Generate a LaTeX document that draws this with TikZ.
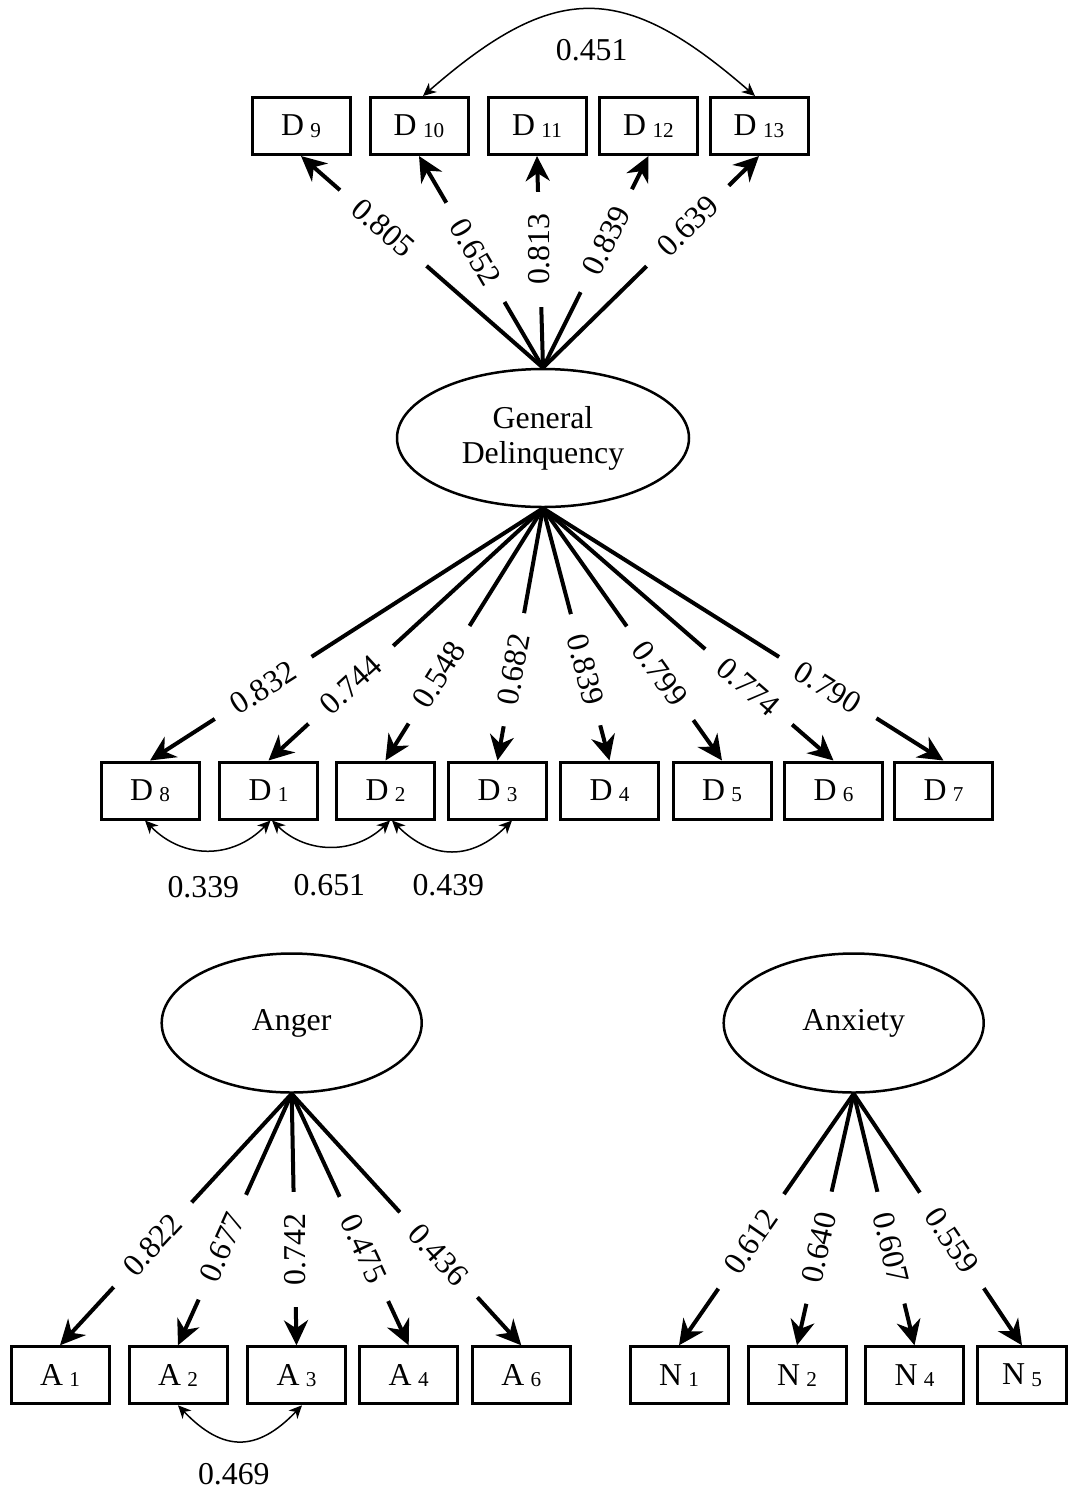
\documentclass[tikz,border=0pt]{standalone}
\usepackage{fontspec}
\setmainfont{Liberation Serif}
\usetikzlibrary{arrows.meta,shapes.geometric}
% indicator label: letter with a small, slightly lowered index
\newcommand{\varlab}[2]{#1\hspace{3.2pt}\raisebox{-0.7pt}{\fontsize{10.6}{10.6}\selectfont #2}}

\begin{document}
\begin{tikzpicture}[x=0.5pt,y=-0.5pt,
  every node/.style={font=\fontsize{15.9}{17.5}\selectfont},
  obs/.style={draw, line width=1.5pt, minimum width=49pt, minimum height=28.5pt, inner sep=0pt},
  latent/.style={draw, ellipse, line width=1.25pt, inner sep=0pt, align=center},
  load/.style={line width=2pt, -{Stealth[length=12.5pt,width=12pt,inset=4pt]}},
  corr/.style={line width=0.75pt,
    {Stealth[length=6.5pt,width=6pt,inset=2pt]}-{Stealth[length=6.5pt,width=6pt,inset=2pt]}},
  lbl/.style={fill=white, inner xsep=10.8pt, inner ysep=1.5pt},
  coef/.style={inner sep=0pt}]

\useasboundingbox (0,0) rectangle (1070,1490);

% ---------- latent factors ----------
\node[latent, minimum width=146pt, minimum height=69pt] (GD) at (543,438) {General\\Delinquency};
\node[latent, minimum width=130pt, minimum height=69.5pt] (ANG) at (291.7,1023) {Anger};
\node[latent, minimum width=130pt, minimum height=69.5pt] (ANX) at (853.7,1023) {Anxiety};

% ---------- delinquency indicators, upper row ----------
\node[obs] (D9)  at (301,126)   {\varlab{D}{9}};
\node[obs] (D10) at (419,126)   {\varlab{D}{10}};
\node[obs] (D11) at (537,126)   {\varlab{D}{11}};
\node[obs] (D12) at (648.5,126) {\varlab{D}{12}};
\node[obs] (D13) at (759,126)   {\varlab{D}{13}};

% ---------- delinquency indicators, lower row ----------
\node[obs] (D8) at (150,790.5)   {\varlab{D}{8}};
\node[obs] (D1) at (268.5,790.5) {\varlab{D}{1}};
\node[obs] (D2) at (385.5,790.5) {\varlab{D}{2}};
\node[obs] (D3) at (497.5,790.5) {\varlab{D}{3}};
\node[obs] (D4) at (609.5,790.5) {\varlab{D}{4}};
\node[obs] (D5) at (722,790.5)   {\varlab{D}{5}};
\node[obs] (D6) at (833.5,790.5) {\varlab{D}{6}};
\node[obs] (D7) at (943.5,790.5) {\varlab{D}{7}};

% ---------- anger indicators ----------
\node[obs] (A1) at (60,1375.3)    {\varlab{A}{1}};
\node[obs] (A2) at (178,1375.3)   {\varlab{A}{2}};
\node[obs] (A3) at (296.5,1375.3) {\varlab{A}{3}};
\node[obs] (A4) at (408.7,1375.3) {\varlab{A}{4}};
\node[obs] (A6) at (521.3,1375.3) {\varlab{A}{6}};

% ---------- anxiety indicators ----------
\node[obs] (N1) at (679,1375.3)   {\varlab{N}{1}};
\node[obs] (N2) at (797,1375.3)   {\varlab{N}{2}};
\node[obs] (N4) at (914.5,1375.3) {\varlab{N}{4}};
\node[obs, minimum width=44.5pt] (N5) at (1022,1375.3) {\varlab{N}{5}};

% ---------- loadings: general delinquency, upper fan ----------
\draw[load] (GD.north) -- node[lbl, sloped, pos=0.66]  {0.805} (D9.south);
\draw[load] (GD.north) -- node[lbl, sloped, pos=0.545] {0.652} (D10.south);
\draw[load] (GD.north) -- node[lbl, rotate=90, pos=0.56] {0.813} (D11.south);
\draw[load] (GD.north) -- node[lbl, sloped, pos=0.60]  {0.839} (D12.south);
\draw[load] (GD.north) -- node[lbl, sloped, pos=0.67]  {0.639} (D13.south);

% ---------- loadings: general delinquency, lower fan ----------
\draw[load] (GD.south) -- node[lbl, sloped, pos=0.712] {0.832} (D8.north);
\draw[load] (GD.south) -- node[lbl, sloped, pos=0.70]  {0.744} (D1.north);
\draw[load] (GD.south) -- node[lbl, sloped, pos=0.66]  {0.548} (D2.north);
\draw[load] (GD.south) -- node[lbl, sloped, pos=0.64]  {0.682} (D3.north);
\draw[load] (GD.south) -- node[lbl, sloped, pos=0.64]  {0.839} (D4.north);
\draw[load] (GD.south) -- node[lbl, sloped, pos=0.654] {0.799} (D5.north);
\draw[load] (GD.south) -- node[lbl, sloped, pos=0.708] {0.774} (D6.north);
\draw[load] (GD.south) -- node[lbl, sloped, pos=0.711] {0.790} (D7.north);

% ---------- loadings: anger ----------
\draw[load] (ANG.south) -- node[lbl, sloped, pos=0.60]  {0.822} (A1.north);
\draw[load] (ANG.south) -- node[lbl, sloped, pos=0.61]  {0.677} (A2.north);
\draw[load] (ANG.south) -- node[lbl, rotate=90, pos=0.62] {0.742} (A3.north);
\draw[load] (ANG.south) -- node[lbl, sloped, pos=0.617] {0.475} (A4.north);
\draw[load] (ANG.south) -- node[lbl, sloped, pos=0.64]  {0.436} (A6.north);

% ---------- loadings: anxiety ----------
\draw[load] (ANX.south) -- node[lbl, sloped, pos=0.587] {0.612} (N1.north);
\draw[load] (ANX.south) -- node[lbl, sloped, pos=0.612] {0.640} (N2.north);
\draw[load] (ANX.south) -- node[lbl, sloped, pos=0.612] {0.607} (N4.north);
\draw[load] (ANX.south) -- node[lbl, sloped, pos=0.583] {0.559} (N5.north);

% ---------- residual correlations ----------
\draw[corr] ([xshift=2pt]D10.north) .. controls +(132,-115) and +(-132,-115) .. ([xshift=-2pt]D13.north);
\node[coef] (r451) at (591.7,50) {0.451};

\draw[corr] ([xshift=-2.5pt]D8.south) .. controls +(38,39) and +(-38,39) .. ([xshift=1pt]D1.south);
\draw[corr] ([xshift=1.75pt]D1.south) .. controls +(35,34) and +(-35,34) .. ([xshift=2.25pt]D2.south);
\draw[corr] ([xshift=3.25pt]D2.south) .. controls +(40,40) and +(-40,40) .. ([xshift=7.25pt]D3.south);
\node[coef] (r339) at (203.3,886.7) {0.339};
\node[coef] (r651) at (329.3,885)   {0.651};
\node[coef] (r439) at (448.3,885)   {0.439};

\draw[corr] (A2.south) .. controls +(45,47) and +(-45,47) .. ([xshift=2.75pt]A3.south);
\node[coef] (r469) at (233.8,1474) {0.469};

\end{tikzpicture}
\end{document}
